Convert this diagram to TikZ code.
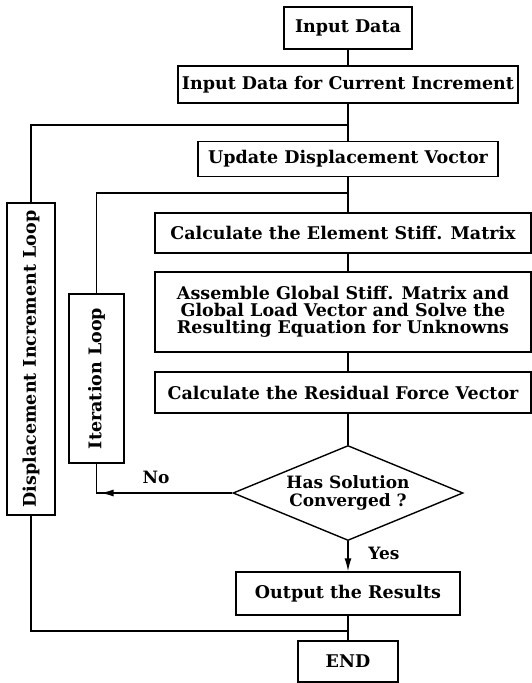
\documentclass[tikz,border=0pt]{standalone}
\usepackage{fontspec}
\setmainfont{DejaVu Serif}
\usetikzlibrary{shapes.geometric,arrows.meta}
\begin{document}
\begin{tikzpicture}[x=1pt,y=-1pt,line width=1.4pt,
  box/.style={draw,inner sep=0pt,align=center,font=\fontsize{17.5}{17}\selectfont\bfseries},
  lbl/.style={inner sep=0pt,font=\fontsize{17}{17}\selectfont\bfseries},
  tip/.style={-{Latex[length=13pt,width=7pt]}}]
\useasboundingbox (0,0) rectangle (532,683);
\node[box,minimum width=128pt,minimum height=42pt] (inp) at (348,28) {Input Data};
\node[box,minimum width=340pt,minimum height=37pt] (inc) at (348,84.5) {Input Data for Current Increment};
\node[box,minimum width=300pt,minimum height=35pt] (upd) at (348,159) {Update Displacement Voctor};
\node[box,minimum width=376pt,minimum height=40pt] (elem) at (343,233) {Calculate the Element Stiff. Matrix};
\node[box,minimum width=376pt,minimum height=80pt] (asm) at (343,312) {Assemble Global Stiff. Matrix and\\Global Load Vector and Solve the\\Resulting Equation for Unknowns};
\node[box,minimum width=376pt,minimum height=41pt] (res) at (343,392.5) {Calculate the Residual Force Vector};
\node[box,shape=diamond,aspect=2.42,minimum width=230pt,minimum height=95pt,font=\fontsize{17}{18}\selectfont\bfseries] (conv) at (348,493) {Has Solution\\Converged ?};
\node[box,minimum width=224pt,minimum height=43pt] (out) at (348,593.5) {Output the Results};
\node[box,minimum width=100pt,minimum height=41pt] (endn) at (348,661.5) {END};
\node[box,minimum width=312pt,minimum height=48pt,rotate=90] (disp) at (31,359) {Displacement Increment Loop};
\node[box,minimum width=169pt,minimum height=55pt,rotate=90] (iter) at (96.5,378.5) {Iteration Loop};
\node[lbl] (no) at (156,477) {No};
\node[lbl] (yes) at (384,553) {Yes};
\coordinate (j1) at (348,125);
\coordinate (j2) at (348,193);
\coordinate (j3) at (348,631);
\coordinate (c1) at (iter.west |- conv.west);
\draw (inp.south) -- (inc.north);
\draw (inc.south) -- (upd.north);
\draw (disp.east) |- (j1);
\draw (upd.south) -- (upd.south |- elem.north);
\draw (iter.east) |- (j2);
\draw (elem.south -| j2) -- (asm.north -| j2);
\draw (asm.south -| j2) -- (res.north -| j2);
\draw (res.south -| j2) -- (conv.north);
\draw[tip] (conv.south) -- (out.north);
\draw (conv.west) -- (c1) -- (iter.west);
\draw[tip] ([xshift=21pt]c1) -- ([xshift=4pt]c1);
\draw (out.south) -- (endn.north);
\draw (disp.west) |- (j3);
\end{tikzpicture}
\end{document}
